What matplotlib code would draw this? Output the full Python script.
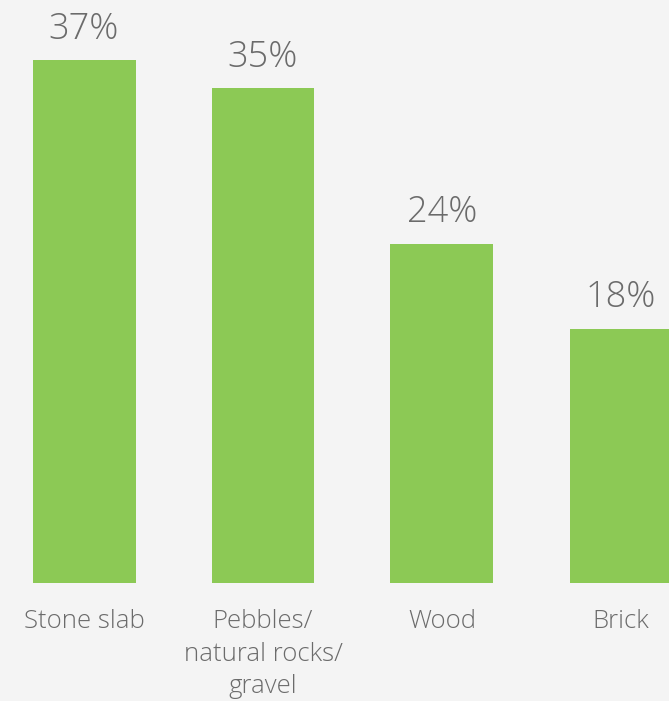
import matplotlib
matplotlib.use("Agg")
import matplotlib.pyplot as plt

categories = ["Stone slab", "Pebbles/\nnatural rocks/\ngravel", "Wood", "Brick"]
shares = [37, 35, 24, 18]

bg = "#f4f4f4"
green = "#8cc955"
textgray = "#6b6b6b"
plt.rcParams["font.family"] = ["Open Sans", "DejaVu Sans"]

W, H, dpi = 669, 701, 100
fig = plt.figure(figsize=(W / dpi, H / dpi), dpi=dpi, facecolor=bg)

# bar baseline sits 583 px from the top, bars 179 px apart
base_px = 583
step = 179
first_center = 84
px_per_pct = 14.13
ax = fig.add_axes([0, (H - base_px) / H, 1, base_px / H])
ax.set_facecolor(bg)

x = list(range(len(shares)))
ax.bar(x, shares, width=103 / step, color=green)
ax.set_xlim(-first_center / step, (W - first_center) / step)
ax.set_ylim(0, base_px / px_per_pct)
ax.axis("off")

for xi, v in zip(x, shares):
    ax.annotate(f"{v}%", (xi, v), xytext=(0, 15.5), textcoords="offset points",
                ha="center", va="baseline", fontsize=26, color=textgray,
                fontweight="light")

for xi, lab in zip(x, categories):
    ax.annotate(lab, (xi, 0), xytext=(0, -19), textcoords="offset points",
                ha="center", va="top", fontsize=18.5, color=textgray,
                fontweight="light", linespacing=1.38)

fig.savefig("out.png", dpi=dpi, facecolor=bg)
